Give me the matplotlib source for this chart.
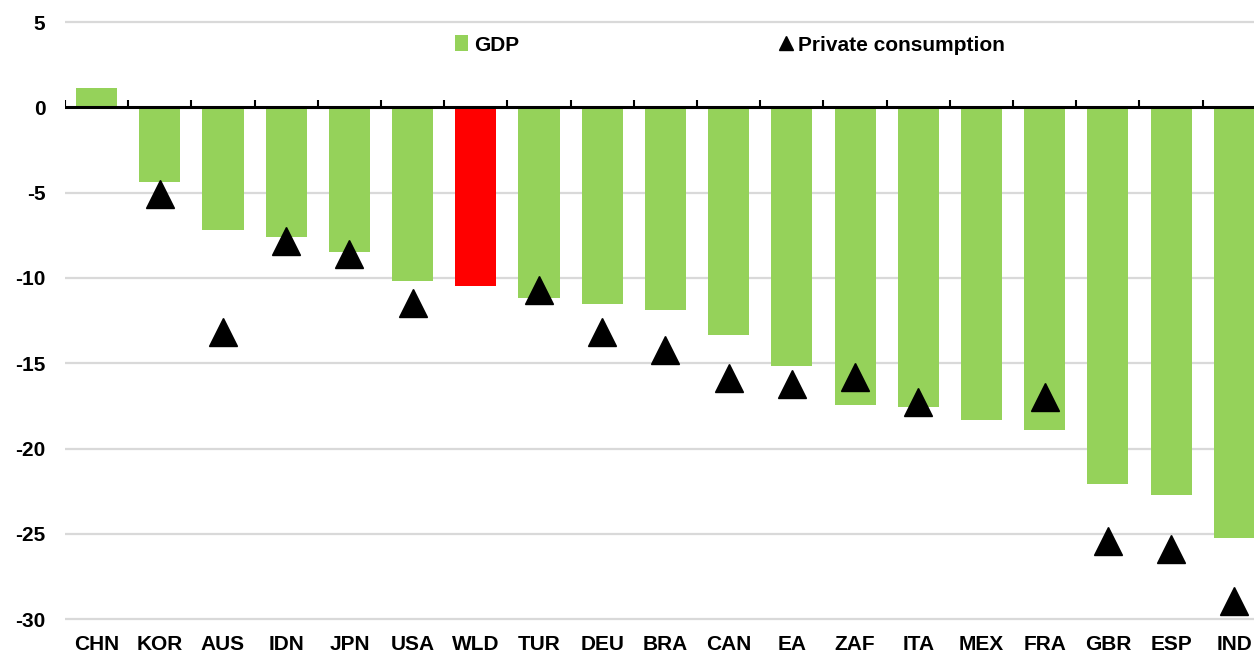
import numpy as np
import matplotlib
matplotlib.use('Agg')
import matplotlib.pyplot as plt
from matplotlib.lines import Line2D
from matplotlib.patches import Patch

plt.rcParams['font.family'] = ['Liberation Sans Narrow', 'Liberation Sans', 'DejaVu Sans']

# Data (% change)
countries = ['CHN', 'KOR', 'AUS', 'IDN', 'JPN', 'USA', 'WLD', 'TUR', 'DEU', 'BRA',
             'CAN', 'EA', 'ZAF', 'ITA', 'MEX', 'FRA', 'GBR', 'ESP', 'IND']
gdp = [1.15, -4.4, -7.2, -7.6, -8.5, -10.2, -10.45, -11.2, -11.55, -11.9,
       -13.35, -15.15, -17.45, -17.55, -18.35, -18.9, -22.1, -22.75, -25.25]
consumption = [np.nan, -5.1, -13.2, -7.85, -8.6, -11.5, np.nan, -10.7, -13.2, -14.2,
               -15.85, -16.2, -15.8, -17.3, np.nan, -17.0, -25.45, -25.9, -28.95]
highlight = 'WLD'
yticks = [5, 0, -5, -10, -15, -20, -25, -30]

GREEN = '#95D25A'
RED = '#FF0000'
GRID = '#d9d9d9'

fig = plt.figure(figsize=(12.54, 6.53), dpi=100)
ax = fig.add_axes([0.0518, 0.0467, 0.9577, 0.9248])

x = np.arange(len(countries))
colors = [RED if c == highlight else GREEN for c in countries]

ax.bar(x, gdp, width=0.65, color=colors, zorder=2)
ax.plot(x, consumption, linestyle='none', marker='^', markersize=20,
        color='black', zorder=4)

# gridlines and zero axis
for yv in yticks:
    if yv != 0:
        ax.axhline(yv, color=GRID, lw=1.6, zorder=1)
ax.axhline(0, color='black', lw=2.2, zorder=3)
ax.vlines(np.arange(len(countries) + 1) - 0.5, 0, 0.45, color='black', lw=1.5, zorder=3)

ax.set_xlim(-0.5, len(countries) - 0.5)
ax.set_ylim(-30.2, 5.2)
ax.set_yticks(yticks)
ax.set_yticklabels([str(v) for v in yticks], fontsize=15, fontweight='bold')
ax.set_xticks(x)
ax.set_xticklabels(countries, fontsize=15, fontweight='bold')
ax.tick_params(axis='y', length=0, pad=14)
ax.tick_params(axis='x', length=0, pad=9)
for s in ax.spines.values():
    s.set_visible(False)

handles = [Patch(facecolor=GREEN, edgecolor='none'),
           Line2D([], [], linestyle='none', marker='^', markersize=10, color='black')]
fig.legend(handles, ['GDP', 'Private consumption'], loc='center left',
           bbox_to_anchor=(0.363, 0.931), ncol=2, frameon=False,
           fontsize=15, prop={'weight': 'bold', 'size': 15},
           handlelength=0.6, handleheight=0.8, handletextpad=0.3,
           columnspacing=12.5, borderpad=0, borderaxespad=0)

fig.savefig('out.png', dpi=100)
